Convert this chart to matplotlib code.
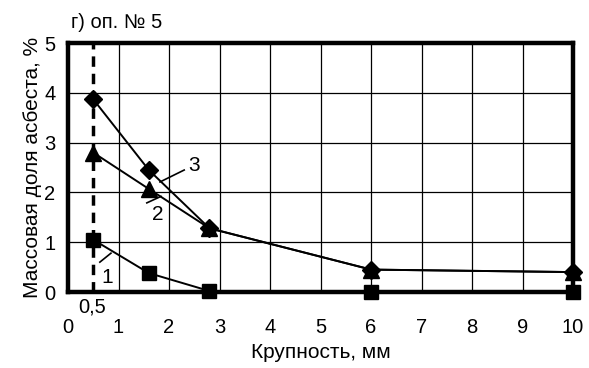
import matplotlib
matplotlib.use("Agg")
import matplotlib.pyplot as plt

plt.rcParams['font.family'] = ['Liberation Sans', 'DejaVu Sans']

# fraction size, mm
size = [0.5, 1.6, 2.8, 6, 10]
curve1 = [1.05, 0.38, 0.02, 0.0, 0.0]      # squares
curve2 = [2.8, 2.07, 1.28, 0.45, 0.4]      # triangles
curve3 = [3.87, 2.45, 1.28, 0.45, 0.4]     # diamonds
x_ticks = list(range(0, 11))
y_ticks = list(range(0, 6))
# curve number labels: (text x, text y, leader from, leader to)
labels = [("1", 0.78, 0.30, (0.63, 0.60), (0.85, 0.78)),
          ("2", 1.78, 1.55, (1.56, 1.79), (1.84, 1.92)),
          ("3", 2.5, 2.55, (1.82, 2.21), (2.3, 2.45))]

fig = plt.figure(figsize=(5.89, 3.68), dpi=100)
ax = fig.add_axes([0.1155, 0.2065, 0.8575, 0.6765])

ax.set_xlim(0, 10)
ax.set_ylim(0, 5)
ax.set_xticks(x_ticks)
ax.set_yticks(y_ticks)
ax.grid(True, color="black", lw=0.9)
ax.set_axisbelow(True)
ax.tick_params(length=0, labelsize=14.5, pad=9)
ax.tick_params(axis="x", pad=19)
for s in ax.spines.values():
    s.set_linewidth(3.2)
    s.set_zorder(2)

ax.axvline(0.5, color="black", lw=2.5, ls=(0, (3, 2)), zorder=3)

ax.plot(size, curve1, color="black", lw=1.4, marker="s", ms=10.5, zorder=4, clip_on=False)
ax.plot(size, curve2, color="black", lw=1.4, marker="^", ms=12, zorder=4, clip_on=False)
ax.plot(size, curve3, color="black", lw=1.4, marker="D", ms=9, zorder=4, clip_on=False)

for t, tx, ty, p0, p1 in labels:
    ax.plot([p0[0], p1[0]], [p0[1], p1[1]], color="black", lw=1.2, zorder=4)
    ax.text(tx, ty, t, fontsize=15, ha="center", va="center", zorder=5)

ax.text(0.48, -0.3, "0,5", fontsize=14.5, ha="center", va="center", clip_on=False)
ax.text(0.05, 5.42, "г) оп. № 5", fontsize=14.5, ha="left", va="center", clip_on=False)

ax.set_xlabel("Крупность, мм", fontsize=15, labelpad=4)
ax.set_ylabel("Массовая доля асбеста, %", fontsize=15, labelpad=2)

fig.savefig("out.png", dpi=100)
